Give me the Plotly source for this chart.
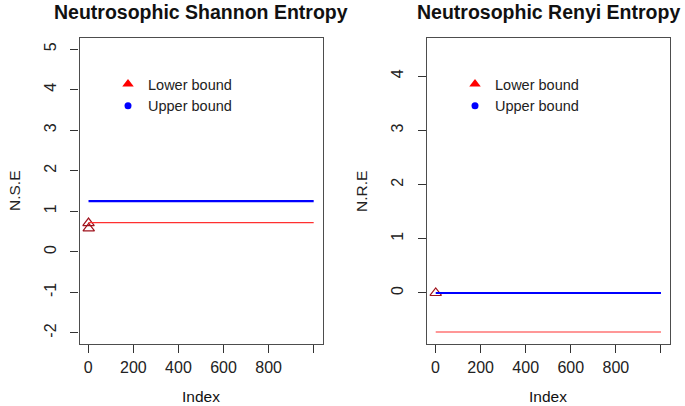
import plotly.graph_objects as go

# ---- data ----
index_ends = [1, 1000]
nse_lower = [0.72, 0.72]
nse_upper = [1.25, 1.25]
nse_pts_x = [1, 2]
nse_pts_y = [0.71, 0.58]

nre_lower = [-0.72, -0.72]
nre_upper = [0.0, 0.0]
nre_pts_x = [1]
nre_pts_y = [0.0]

x_tickvals = [0, 200, 400, 600, 800, 1000]
x_ticktext = ["0", "200", "400", "600", "800", ""]
nse_yticks = [-2, -1, 0, 1, 2, 3, 4, 5]
nse_ytext = ["-2", "-1", "0", "1", "2", "3", "4", "5"]
nre_yticks = [0, 1, 2, 3, 4]
nre_ytext = ["0", "1", "2", "3", "4"]

W, H = 685, 406
FONT = "Liberation Sans, Arial, sans-serif"
AX = "#4d4d4d"

def px(x):
    return x / W

def py(y):
    return 1 - y / H

fig = go.Figure()

# left panel
fig.add_trace(go.Scatter(x=nse_pts_x, y=nse_pts_y, mode="markers",
                         marker=dict(symbol="triangle-up-open", size=10, color="#a0141e", line=dict(width=1.2)),
                         xaxis="x", yaxis="y", showlegend=False))
fig.add_trace(go.Scatter(x=index_ends, y=nse_upper, mode="lines", line=dict(color="#0000ff", width=2.2),
                         xaxis="x", yaxis="y", showlegend=False))
fig.add_trace(go.Scatter(x=index_ends, y=nse_lower, mode="lines", line=dict(color="#ff3030", width=1.2),
                         xaxis="x", yaxis="y", showlegend=False))
# right panel
fig.add_trace(go.Scatter(x=nre_pts_x, y=nre_pts_y, mode="markers",
                         marker=dict(symbol="triangle-up-open", size=10, color="#a0141e", line=dict(width=1.2)),
                         xaxis="x2", yaxis="y2", showlegend=False))
fig.add_trace(go.Scatter(x=index_ends, y=nre_upper, mode="lines", line=dict(color="#0000ff", width=2.2),
                         xaxis="x2", yaxis="y2", showlegend=False))
fig.add_trace(go.Scatter(x=index_ends, y=nre_lower, mode="lines", line=dict(color="#ff3030", width=1.2),
                         xaxis="x2", yaxis="y2", showlegend=False))

# legend entries
for lg, xa, ya in (("legend", "x", "y"), ("legend2", "x2", "y2")):
    fig.add_trace(go.Scatter(x=[None], y=[None], mode="markers", name="Lower bound",
                             marker=dict(symbol="triangle-up", size=10, color="#ff0000"),
                             xaxis=xa, yaxis=ya, legend=lg))
    fig.add_trace(go.Scatter(x=[None], y=[None], mode="markers", name="Upper bound",
                             marker=dict(symbol="circle", size=7, color="#0000ff"),
                             xaxis=xa, yaxis=ya, legend=lg))

common_x = dict(range=[-39, 1040], tickvals=x_tickvals, ticktext=x_ticktext,
                showline=True, mirror=True, linecolor=AX, linewidth=1.3,
                ticks="outside", ticklen=8, tickcolor="#333", tickwidth=1,
                showgrid=False, zeroline=False,
                tickfont=dict(family=FONT, size=16, color="#222"))
common_y = dict(showline=True, mirror=True, linecolor=AX, linewidth=1.3,
                ticks="outside", ticklen=8, tickcolor="#333", tickwidth=1,
                showgrid=False, zeroline=False, tickangle=-90, ticklabelstandoff=8,
                tickfont=dict(family=FONT, size=16, color="#222"))

leg_font = dict(family=FONT, size=14.5, color="#222")
fig.update_layout(
    width=W, height=H,
    margin=dict(l=0, r=0, t=0, b=0),
    paper_bgcolor="white", plot_bgcolor="white",
    xaxis=dict(domain=[px(79.5), px(322.7)], anchor="y", **common_x),
    yaxis=dict(domain=[py(344.3), py(37.7)], anchor="x", range=[-2.28, 5.28],
               tickvals=nse_yticks, ticktext=nse_ytext, **common_y),
    xaxis2=dict(domain=[px(426.7), px(670)], anchor="y2", **common_x),
    yaxis2=dict(domain=[py(344.3), py(38.3)], anchor="x2", range=[-0.947, 4.70],
                tickvals=nre_yticks, ticktext=nre_ytext, **common_y),
    legend=dict(x=px(108), y=py(68), xanchor="left", yanchor="top",
                bgcolor="rgba(0,0,0,0)", font=leg_font,
                tracegroupgap=0, itemclick=False),
    legend2=dict(x=px(455), y=py(68), xanchor="left", yanchor="top",
                 bgcolor="rgba(0,0,0,0)", font=leg_font,
                 tracegroupgap=0, itemclick=False),
    showlegend=True,
)

annots = [
    dict(text="<b>Neutrosophic Shannon Entropy</b>", x=px(201), y=py(12.5), size=19.5),
    dict(text="<b>Neutrosophic Renyi Entropy</b>", x=px(548), y=py(12.5), size=19.5),
    dict(text="Index", x=px(201), y=py(396), size=15.5),
    dict(text="Index", x=px(548), y=py(396), size=15.5),
]
for a in annots:
    fig.add_annotation(text=a["text"], x=a["x"], y=a["y"], xref="paper", yref="paper",
                       showarrow=False, xanchor="center", yanchor="middle",
                       font=dict(family=FONT, size=a["size"], color="#111"))
for t, x in (("N.S.E", 14), ("N.R.E", 361)):
    fig.add_annotation(text=t, x=px(x), y=py(191), xref="paper", yref="paper",
                       showarrow=False, textangle=-90, xanchor="center", yanchor="middle",
                       font=dict(family=FONT, size=15.5, color="#222"))

fig.write_html("out.html", config={"displayModeBar": False},
               post_script="document.body.style.margin='0';document.body.style.overflow='hidden';")
